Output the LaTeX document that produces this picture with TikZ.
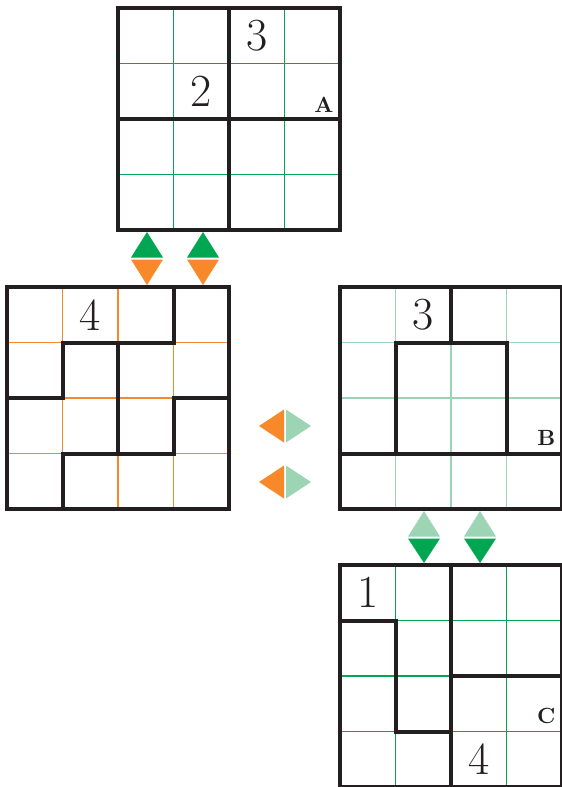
\documentclass[tikz,border=0pt]{standalone}
\definecolor{gridgreen}{HTML}{00A651}
\definecolor{palegreen}{HTML}{9DD4B4}
\definecolor{gridorange}{HTML}{F7892B}
\definecolor{ink}{HTML}{231F20}
\tikzset{
	thinline/.style={line width=1.3pt},
	wall/.style={line width=4pt, line cap=rect, line join=miter, ink},
	digit/.style={font=\fontsize{46}{46}\selectfont, text=ink},
	tag/.style={font=\bfseries, scale=2.2, text=ink, anchor=base east, inner sep=0pt},
}
\begin{document}
\begin{tikzpicture}[x=1pt, y=-1pt]
	\useasboundingbox (0,0) rectangle (562,787);
	% grid A
	\begin{scope}[shift={(118,8)}, x=55.5pt, y=-55.5pt]
		\foreach \i in {1,2,3} {
			\draw[thinline, gridgreen] (\i,0) -- (\i,4);
			\draw[thinline, gridgreen] (0,\i) -- (4,\i);
		}
		\draw[wall] (0,0) rectangle (4,4);
		\draw[wall] (2,0) -- (2,4) (0,2) -- (4,2);
		\node[digit] (a3) at (2.5,0.5) {3};
		\node[digit] (a2) at (1.5,1.5) {2};
		\node[tag] (tagA) at (3.89,1.89) {A};
	\end{scope}
	% left grid
	\begin{scope}[shift={(7,287)}, x=55.5pt, y=-55.5pt]
		\foreach \i in {1,2,3} {
			\draw[thinline, gridorange] (\i,0) -- (\i,4);
			\draw[thinline, gridorange] (0,\i) -- (4,\i);
		}
		\draw[wall] (0,0) rectangle (4,4);
		\draw[wall] (3,0) -- (3,1) -- (1,1) -- (1,2) -- (0,2);
		\draw[wall] (2,1) -- (2,3) -- (1,3) -- (1,4);
		\draw[wall] (4,2) -- (3,2) -- (3,3) -- (2,3);
		\node[digit] (l4) at (1.5,0.5) {4};
	\end{scope}
	% grid B
	\begin{scope}[shift={(340,287)}, x=55.5pt, y=-55.5pt]
		\foreach \i in {1,2,3} {
			\draw[thinline, palegreen] (\i,0) -- (\i,4);
			\draw[thinline, palegreen] (0,\i) -- (4,\i);
		}
		\draw[wall] (0,0) rectangle (4,4);
		\draw[wall] (2,0) -- (2,1);
		\draw[wall] (1,3) -- (1,1) -- (3,1) -- (3,3);
		\draw[wall] (0,3) -- (4,3);
		\node[digit] (b3) at (1.5,0.5) {3};
		\node[tag] (tagB) at (3.89,2.86) {B};
	\end{scope}
	% grid C
	\begin{scope}[shift={(340,565)}, x=55.5pt, y=-55.5pt]
		\foreach \i in {1,2,3} {
			\draw[thinline, gridgreen] (\i,0) -- (\i,4);
			\draw[thinline, gridgreen] (0,\i) -- (4,\i);
		}
		\draw[wall] (0,0) rectangle (4,4);
		\draw[wall] (0,1) -- (1,1) -- (1,3) -- (2,3);
		\draw[wall] (2,0) -- (2,4);
		\draw[wall] (2,2) -- (4,2);
		\node[digit] (c1) at (0.5,0.5) {1};
		\node[digit] (c4) at (2.5,3.5) {4};
		\node[tag] (tagC) at (3.89,2.86) {C};
	\end{scope}
	% arrow pairs
	\foreach \x in {147,203} {
		\fill[gridgreen] (\x-16,257.5) -- (\x+16,257.5) -- (\x,232) -- cycle;
		\fill[gridorange] (\x-16,259.5) -- (\x+16,259.5) -- (\x,285) -- cycle;
	}
	\foreach \y in {426,482} {
		\fill[gridorange] (284,\y-16.5) -- (284,\y+16.5) -- (259,\y) -- cycle;
		\fill[palegreen] (286,\y-16.5) -- (286,\y+16.5) -- (311,\y) -- cycle;
	}
	\foreach \x in {424,480} {
		\fill[palegreen] (\x-16,536.5) -- (\x+16,536.5) -- (\x,511) -- cycle;
		\fill[gridgreen] (\x-16,538.5) -- (\x+16,538.5) -- (\x,563) -- cycle;
	}
\end{tikzpicture}
\end{document}
